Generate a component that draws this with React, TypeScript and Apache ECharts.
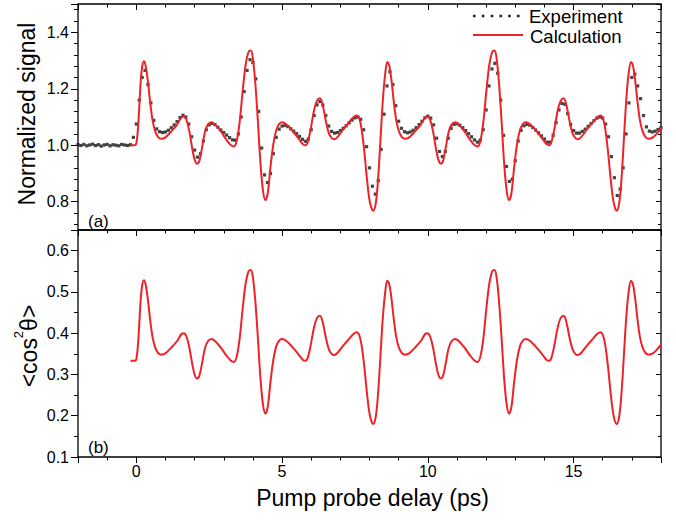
import React, { useEffect, useRef } from "react";
import * as echarts from "echarts";

const FONT = "'Liberation Sans', Arial, Helvetica, sans-serif";
const RED = "#ee2229";

// tick labels
const xTickLabels = [0, 5, 10, 15];
const signalTickLabels = [0.8, 1.0, 1.2, 1.4];
const cos2TickLabels = [0.1, 0.2, 0.3, 0.4, 0.5, 0.6];

// calculation: time (ps)
const calcTime = [
  -0.2, -0.05, 0.0, 0.05, 0.1, 0.15, 0.2, 0.26, 0.32, 0.4,
  0.48, 0.56, 0.65, 0.75, 0.86, 1.0, 1.2, 1.4, 1.55, 1.63,
  1.72, 1.82, 1.92, 2.0, 2.08, 2.16, 2.25, 2.35, 2.45, 2.58,
  2.7, 2.9, 3.1, 3.25, 3.35, 3.45, 3.55, 3.65, 3.75, 3.85,
  3.93, 4.0, 4.08, 4.17, 4.26, 4.35, 4.43, 4.51, 4.6, 4.7,
  4.8, 4.9, 5.0, 5.15, 5.35, 5.55, 5.72, 5.8, 5.88, 5.98,
  6.1, 6.2, 6.3, 6.4, 6.5, 6.6, 6.7, 6.79, 6.9, 7.1,
  7.3, 7.45, 7.56, 7.65, 7.73, 7.82, 7.92, 8.02, 8.13, 8.22,
  8.3, 8.38, 8.46, 8.54, 8.61, 8.68, 8.76, 8.84, 8.92, 9.01,
  9.11, 9.22, 9.36, 9.56, 9.76, 9.91, 9.99, 10.08, 10.18, 10.28,
  10.36, 10.44, 10.52, 10.61, 10.71, 10.81, 10.94, 11.06, 11.26, 11.46,
  11.61, 11.71, 11.81, 11.91, 12.01, 12.11, 12.21, 12.29, 12.36, 12.44,
  12.53, 12.62, 12.71, 12.79, 12.87, 12.96, 13.06, 13.16, 13.26, 13.36,
  13.51, 13.71, 13.91, 14.08, 14.16, 14.24, 14.34, 14.46, 14.56, 14.66,
  14.76, 14.86, 14.96, 15.06, 15.15, 15.26, 15.46, 15.66, 15.81, 15.92,
  16.01, 16.09, 16.18, 16.28, 16.38, 16.48, 16.57, 16.65, 16.73, 16.81,
  16.89, 16.97, 17.04, 17.12, 17.2, 17.28, 17.37, 17.47, 17.58, 17.72,
  17.88, 18.0, 18.1,
];

// calculation: <cos^2 theta> (panel b)
const calcCos2 = [
  0.333, 0.333, 0.337, 0.365, 0.42, 0.48, 0.515, 0.528, 0.518, 0.48,
  0.43, 0.39, 0.365, 0.352, 0.348, 0.351, 0.365, 0.381, 0.398, 0.4,
  0.392, 0.365, 0.325, 0.3, 0.29, 0.296, 0.325, 0.362, 0.38, 0.386,
  0.381, 0.365, 0.345, 0.333, 0.33, 0.345, 0.39, 0.46, 0.52, 0.55,
  0.553, 0.535, 0.48, 0.39, 0.29, 0.225, 0.205, 0.222, 0.28, 0.335,
  0.368, 0.382, 0.386, 0.381, 0.367, 0.35, 0.335, 0.333, 0.34, 0.37,
  0.415, 0.437, 0.442, 0.425, 0.39, 0.362, 0.35, 0.347, 0.352, 0.37,
  0.386, 0.398, 0.402, 0.395, 0.37, 0.32, 0.25, 0.198, 0.18, 0.2,
  0.26, 0.35, 0.44, 0.5, 0.527, 0.518, 0.48, 0.43, 0.39, 0.365,
  0.352, 0.348, 0.351, 0.365, 0.381, 0.398, 0.4, 0.392, 0.365, 0.325,
  0.3, 0.29, 0.296, 0.325, 0.362, 0.38, 0.386, 0.381, 0.365, 0.345,
  0.333, 0.33, 0.345, 0.39, 0.46, 0.52, 0.55, 0.553, 0.535, 0.48,
  0.39, 0.29, 0.225, 0.205, 0.222, 0.28, 0.335, 0.368, 0.382, 0.386,
  0.381, 0.367, 0.35, 0.335, 0.333, 0.34, 0.37, 0.415, 0.437, 0.442,
  0.425, 0.39, 0.362, 0.35, 0.347, 0.352, 0.37, 0.386, 0.398, 0.402,
  0.395, 0.37, 0.32, 0.25, 0.198, 0.18, 0.2, 0.26, 0.35, 0.44,
  0.5, 0.527, 0.518, 0.48, 0.43, 0.39, 0.365, 0.352, 0.348, 0.351,
  0.362, 0.372, 0.376,
];

// calculation: normalized signal (panel a)
const calcSignal = [
  1.0, 1.0, 1.006, 1.049, 1.132, 1.224, 1.277, 1.297, 1.281, 1.224,
  1.148, 1.087, 1.049, 1.029, 1.023, 1.028, 1.049, 1.073, 1.099, 1.102,
  1.09, 1.049, 0.988, 0.95, 0.935, 0.944, 0.988, 1.044, 1.072, 1.081,
  1.073, 1.049, 1.018, 1.0, 0.996, 1.018, 1.087, 1.193, 1.284, 1.33,
  1.335, 1.307, 1.224, 1.087, 0.935, 0.836, 0.806, 0.831, 0.92, 1.003,
  1.053, 1.075, 1.081, 1.073, 1.052, 1.026, 1.003, 1.0, 1.011, 1.056,
  1.125, 1.158, 1.166, 1.14, 1.087, 1.044, 1.026, 1.021, 1.029, 1.056,
  1.081, 1.099, 1.105, 1.094, 1.056, 0.98, 0.874, 0.795, 0.768, 0.798,
  0.889, 1.026, 1.163, 1.254, 1.295, 1.281, 1.224, 1.148, 1.087, 1.049,
  1.029, 1.023, 1.028, 1.049, 1.073, 1.099, 1.102, 1.09, 1.049, 0.988,
  0.95, 0.935, 0.944, 0.988, 1.044, 1.072, 1.081, 1.073, 1.049, 1.018,
  1.0, 0.996, 1.018, 1.087, 1.193, 1.284, 1.33, 1.335, 1.307, 1.224,
  1.087, 0.935, 0.836, 0.806, 0.831, 0.92, 1.003, 1.053, 1.075, 1.081,
  1.073, 1.052, 1.026, 1.003, 1.0, 1.011, 1.056, 1.125, 1.158, 1.166,
  1.14, 1.087, 1.044, 1.026, 1.021, 1.029, 1.056, 1.081, 1.099, 1.105,
  1.094, 1.056, 0.98, 0.874, 0.795, 0.768, 0.798, 0.889, 1.026, 1.163,
  1.254, 1.295, 1.281, 1.224, 1.148, 1.087, 1.049, 1.029, 1.023, 1.028,
  1.044, 1.059, 1.065,
];

// experiment: sampled every 0.1 ps starting at -2 ps
const expStart = -2;
const expStep = 0.1;
const expSignal = [
  1.002, 0.999, 1.003, 0.998, 1.001, 1.004, 0.999, 1.002, 0.997, 1.001,
  1.003, 0.998, 1.002, 1.0, 0.998, 1.003, 1.001, 0.999, 1.002, 1.028,
  1.075, 1.16, 1.24, 1.265, 1.215, 1.15, 1.088, 1.058, 1.048, 1.045,
  1.047, 1.053, 1.062, 1.072, 1.084, 1.098, 1.106, 1.1, 1.075, 1.03,
  0.983, 0.958, 0.97, 1.015, 1.055, 1.072, 1.077, 1.073, 1.064, 1.054,
  1.045, 1.036, 1.027, 1.019, 1.018, 1.04, 1.1, 1.19, 1.265, 1.303,
  1.293, 1.235, 1.12, 0.99, 0.895, 0.868, 0.9, 0.97, 1.028, 1.057,
  1.068, 1.07, 1.066, 1.058, 1.05, 1.041, 1.031, 1.021, 1.014, 1.022,
  1.055, 1.105, 1.143, 1.155, 1.142, 1.105, 1.068, 1.049, 1.043, 1.045,
  1.052, 1.06, 1.069, 1.079, 1.089, 1.097, 1.1, 1.092, 1.055, 0.995,
  0.92, 0.855, 0.827, 0.875, 0.985, 1.11, 1.21, 1.26, 1.215, 1.14,
  1.085, 1.06, 1.048, 1.044, 1.047, 1.053, 1.062, 1.073, 1.085, 1.097,
  1.103, 1.096, 1.072, 1.025, 0.978, 0.96, 0.978, 1.025, 1.06, 1.074,
  1.076, 1.071, 1.062, 1.052, 1.041, 1.03, 1.019, 1.011, 1.018, 1.055,
  1.125, 1.21, 1.27, 1.29, 1.255, 1.16, 1.035, 0.925, 0.872, 0.88,
  0.945, 1.015, 1.053, 1.069, 1.074, 1.071, 1.063, 1.054, 1.044, 1.033,
  1.022, 1.011, 1.011, 1.035, 1.08, 1.125, 1.148, 1.145, 1.112, 1.074,
  1.052, 1.043, 1.043, 1.049, 1.057, 1.067, 1.077, 1.087, 1.096, 1.1,
  1.096, 1.075, 1.03, 0.96, 0.885, 0.822, 0.845, 0.92, 1.04, 1.15,
  1.24, 1.252, 1.21, 1.165, 1.105, 1.065, 1.05, 1.047, 1.05, 1.056,
  1.062,
];

const pickLabel = (list: number[], digits: number) => (v: number) => {
  const m = list.find((t) => Math.abs(t - v) < 1e-6);
  return m === undefined ? "" : m.toFixed(digits);
};

const tickLine = { color: "#000", width: 1 };
const noLine = { show: false, onZero: false };

function buildOption() {
  const expData = expSignal.map((v, i) => [+(expStart + i * expStep).toFixed(2), v]);
  const sigData = calcTime.map((t, i) => [t, calcSignal[i]]);
  const cosData = calcTime.map((t, i) => [t, calcCos2[i]]);

  const xBase = {
    type: "value",
    min: -2,
    max: 18,
    splitNumber: 4,
    splitLine: { show: false },
    axisLine: noLine,
  };
  const labelStyle = { fontSize: 16, color: "#000", fontFamily: FONT };

  return {
    animation: false,
    backgroundColor: "#fff",
    textStyle: { fontFamily: FONT },
    grid: [
      { left: 78, right: 15, top: 4, height: 226, show: true, borderColor: "#000", borderWidth: 1.3, backgroundColor: "transparent", outerBoundsMode: "none" },
      { left: 78, right: 15, top: 230, height: 227, show: true, borderColor: "#000", borderWidth: 1.3, backgroundColor: "transparent", outerBoundsMode: "none" },
    ],
    xAxis: [
      {
        ...xBase, gridIndex: 0, position: "top",
        axisTick: { show: true, inside: true, length: 6, lineStyle: tickLine },
        minorTick: { show: true, splitNumber: 5, length: 3.5, lineStyle: tickLine },
        axisLabel: { show: false },
      },
      {
        ...xBase, gridIndex: 1, position: "bottom",
        axisTick: { show: true, inside: false, length: 6, lineStyle: tickLine },
        minorTick: { show: true, splitNumber: 5, length: 3.5, lineStyle: tickLine },
        axisLabel: { show: true, margin: 6, ...labelStyle, formatter: pickLabel(xTickLabels, 0) },
      },
      {
        ...xBase, gridIndex: 1, position: "top",
        axisTick: { show: true, inside: true, length: 6, lineStyle: tickLine },
        minorTick: { show: true, splitNumber: 5, length: 3.5, lineStyle: tickLine },
        axisLabel: { show: false },
      },
    ],
    yAxis: [
      {
        type: "value", gridIndex: 0, position: "left", min: 0.7, max: 1.5, splitNumber: 4,
        splitLine: { show: false }, axisLine: noLine,
        axisTick: { show: true, inside: false, length: 7, lineStyle: tickLine },
        minorTick: { show: true, splitNumber: 5, length: 4, lineStyle: tickLine },
        axisLabel: { show: true, margin: 9, ...labelStyle, formatter: pickLabel(signalTickLabels, 1) },
      },
      {
        type: "value", gridIndex: 0, position: "right", min: 0.7, max: 1.5, splitNumber: 4,
        splitLine: { show: false }, axisLine: noLine,
        axisTick: { show: true, inside: true, length: 5, lineStyle: tickLine },
        minorTick: { show: true, splitNumber: 5, length: 3, lineStyle: tickLine },
        axisLabel: { show: false },
      },
      {
        type: "value", gridIndex: 1, position: "left", min: 0.1, max: 0.65, splitNumber: 5,
        splitLine: { show: false }, axisLine: noLine,
        axisTick: { show: true, inside: false, length: 7, lineStyle: tickLine },
        minorTick: { show: true, splitNumber: 2, length: 4, lineStyle: tickLine },
        axisLabel: { show: true, margin: 9, ...labelStyle, formatter: pickLabel(cos2TickLabels, 1) },
      },
      {
        type: "value", gridIndex: 1, position: "right", min: 0.1, max: 0.65, splitNumber: 5,
        splitLine: { show: false }, axisLine: noLine,
        axisTick: { show: true, inside: true, length: 5, lineStyle: tickLine },
        minorTick: { show: true, splitNumber: 2, length: 3, lineStyle: tickLine },
        axisLabel: { show: false },
      },
    ],
    series: [
      {
        name: "Experiment", type: "scatter", xAxisIndex: 0, yAxisIndex: 0,
        data: expData, symbol: "rect", symbolSize: 3.2,
        itemStyle: { color: "#151515" }, silent: true, z: 2,
      },
      {
        name: "Calculation", type: "line", xAxisIndex: 0, yAxisIndex: 0,
        data: sigData, smooth: 0.35, showSymbol: false, clip: true,
        lineStyle: { color: RED, width: 2 }, silent: true, z: 3,
      },
      {
        name: "cos2", type: "line", xAxisIndex: 1, yAxisIndex: 2,
        data: cosData, smooth: 0.35, showSymbol: false, clip: true,
        lineStyle: { color: RED, width: 2 }, silent: true, z: 3,
      },
    ],
    graphic: [
      {
        type: "line", silent: true,
        shape: { x1: 473, y1: 16, x2: 521, y2: 16 },
        style: { stroke: "#222", lineWidth: 2.6, lineDash: [2.6, 6.2] },
      },
      {
        type: "line", silent: true,
        shape: { x1: 473, y1: 35, x2: 523, y2: 35 },
        style: { stroke: RED, lineWidth: 1.8 },
      },
      {
        type: "text", x: 529, y: 16.5, silent: true,
        style: { text: "Experiment", fontSize: 18.5, lineHeight: 18, fontFamily: FONT, fill: "#000", verticalAlign: "middle", textVerticalAlign: "middle" },
      },
      {
        type: "text", x: 530, y: 36, silent: true,
        style: { text: "Calculation", fontSize: 18.5, lineHeight: 18, fontFamily: FONT, fill: "#000", verticalAlign: "middle", textVerticalAlign: "middle" },
      },
      {
        type: "text", x: 88, y: 221, silent: true,
        style: { text: "(a)", fontSize: 17, fontFamily: FONT, fill: "#000", verticalAlign: "middle", textVerticalAlign: "middle" },
      },
      {
        type: "text", x: 88, y: 447, silent: true,
        style: { text: "(b)", fontSize: 17, fontFamily: FONT, fill: "#000", verticalAlign: "middle", textVerticalAlign: "middle" },
      },
      {
        type: "text", x: 372.5, y: 498, silent: true,
        style: { text: "Pump probe delay (ps)", fontSize: 23, fontFamily: FONT, fill: "#000", align: "center", textAlign: "center", verticalAlign: "middle", textVerticalAlign: "middle" },
      },
      {
        type: "text", x: 27, y: 114, rotation: Math.PI / 2, silent: true,
        style: { text: "Normalized signal", fontSize: 23, fontFamily: FONT, fill: "#000", align: "center", textAlign: "center", verticalAlign: "middle", textVerticalAlign: "middle" },
      },
      {
        type: "text", x: 29, y: 346, rotation: Math.PI / 2, silent: true,
        style: {
          text: "{a|<cos}{s|2}{a|θ>}",
          align: "center", textAlign: "center", verticalAlign: "middle", textVerticalAlign: "middle",
          rich: {
            a: { fontSize: 23, fontFamily: FONT, fill: "#000", lineHeight: 34 },
            s: { fontSize: 13, fontFamily: FONT, fill: "#000", lineHeight: 13, verticalAlign: "top" },
          },
        },
      },
    ],
  };
}

export default function App() {
  const ref = useRef<HTMLDivElement>(null);
  useEffect(() => {
    document.body.style.margin = "0";
    const chart = echarts.init(ref.current as HTMLDivElement, null, { renderer: "svg" });
    chart.setOption(buildOption() as any);
    return () => chart.dispose();
  }, []);
  return (
    <div
      ref={ref}
      style={{ position: "absolute", left: 0, top: 0, width: 676, height: 524, background: "#fff" }}
    />
  );
}
